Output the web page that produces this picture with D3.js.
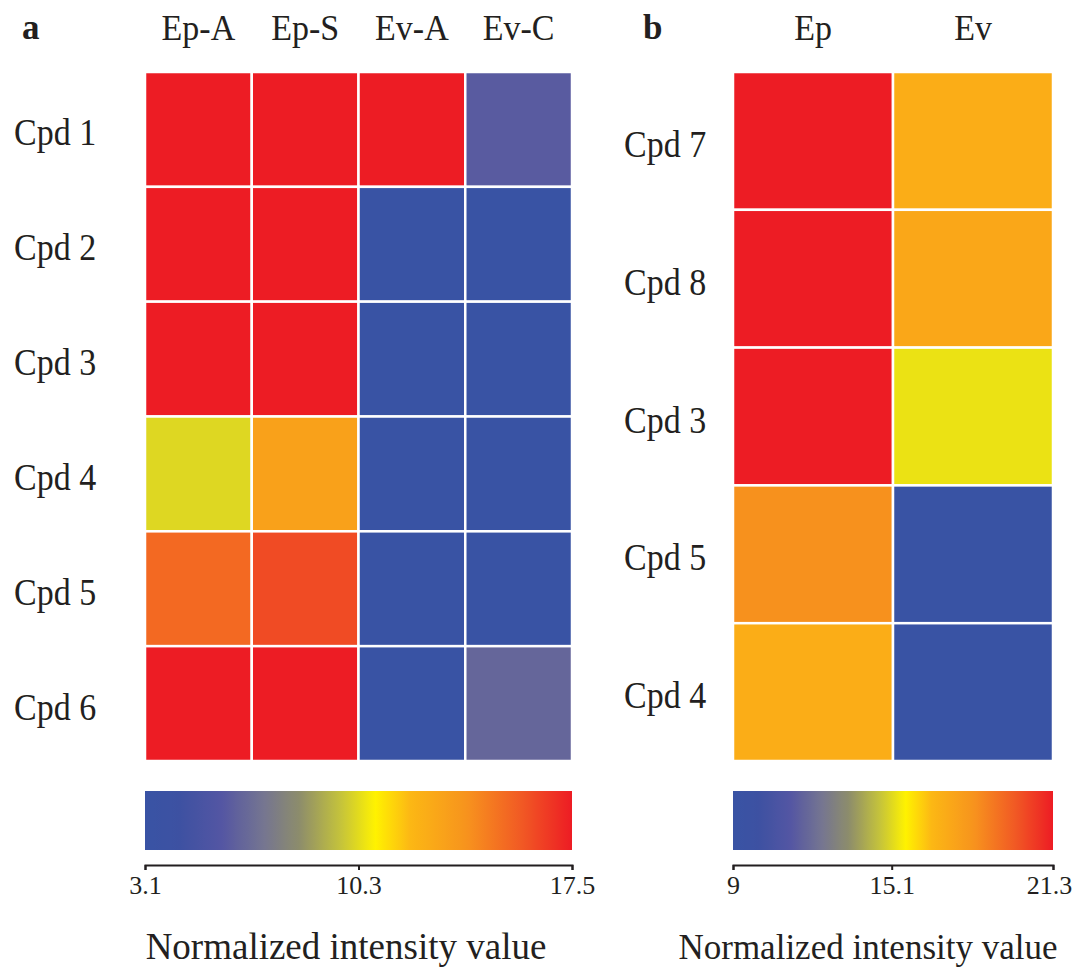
<!DOCTYPE html>
<html>
<head>
<meta charset="utf-8">
<script src="https://cdn.jsdelivr.net/npm/d3@7"></script>
<style>
  body { margin: 0; background: #fff; }
  svg text { font-family: "Liberation Serif", "Times New Roman", serif; fill: #231f20; }
</style>
</head>
<body>
<script>
// panel a
const rowsA = ["Cpd 1", "Cpd 2", "Cpd 3", "Cpd 4", "Cpd 5", "Cpd 6"];
const colsA = ["Ep-A", "Ep-S", "Ev-A", "Ev-C"];
const valuesA = [
  [17.5, 17.5, 17.5, 5.9],
  [17.5, 17.5, 3.1, 3.1],
  [17.5, 17.5, 3.1, 3.1],
  [10.2, 13.2, 3.1, 3.1],
  [15.3, 16.2, 3.1, 3.1],
  [17.5, 17.5, 3.1, 6.4]
];
const ticksA = [3.1, 10.3, 17.5];

// panel b
const rowsB = ["Cpd 7", "Cpd 8", "Cpd 3", "Cpd 5", "Cpd 4"];
const colsB = ["Ep", "Ev"];
const valuesB = [
  [21.3, 17.1],
  [21.3, 17.4],
  [21.3, 15.3],
  [18.3, 9],
  [17.1, 9]
];
const ticksB = [9, 15.1, 21.3];

// colour ramp stops (0..1) used by both colour bars
const rampPos = [0, 0.08, 0.18, 0.28, 0.36, 0.46, 0.54, 0.62, 0.75, 0.88, 1];
const rampCol = ["#3953a4", "#3d51a2", "#5456a3", "#767690", "#8c8c6c", "#c6c43a", "#fff200", "#fcb814", "#f7941d", "#f15a24", "#ed1c24"];

const width = 1074, height = 967;
const svg = d3.select("body").append("svg")
  .attr("width", width)
  .attr("height", height);
const defs = svg.append("defs");

const ramp = d3.scaleLinear().domain(rampPos).range(rampCol).interpolate(d3.interpolateRgb);

function panel(opt) {
  const x = d3.scaleBand().domain(opt.cols).range([opt.left, opt.right]);
  const y = d3.scaleBand().domain(opt.rows).range([72, 761]);
  const norm = d3.scaleLinear().domain([opt.ticks[0], opt.ticks[2]]).range([0, 1]).clamp(true);
  const color = v => ramp(norm(v));

  const g = svg.append("g");

  // heat cells
  opt.values.forEach((row, i) => {
    g.selectAll(null)
      .data(row)
      .enter()
      .append("rect")
      .attr("x", (d, j) => x(opt.cols[j]))
      .attr("y", y(opt.rows[i]))
      .attr("width", x.bandwidth())
      .attr("height", y.bandwidth())
      .attr("fill", d => color(d))
      .attr("stroke", "#fff")
      .attr("stroke-width", 2.5);
  });

  // column labels
  g.selectAll(".col")
    .data(opt.cols)
    .enter()
    .append("text")
    .attr("transform", d => "translate(" + (x(d) + x.bandwidth() / 2) + ",40) scale(1,1.08)")
    .attr("text-anchor", "middle")
    .style("font-size", "34px")
    .text(d => d);

  // row labels
  g.selectAll(".row")
    .data(opt.rows)
    .enter()
    .append("text")
    .attr("transform", d => "translate(" + opt.labelX + "," + (y(d) + y.bandwidth() / 2 + 16) + ") scale(1,1.1)")
    .style("font-size", "34px")
    .text(d => d);

  // panel letter
  g.append("text")
    .attr("x", opt.letterX)
    .attr("y", 39)
    .style("font-size", "35px")
    .style("font-weight", "bold")
    .text(opt.letter);

  // colour bar
  const gid = "grad-" + opt.letter;
  const grad = defs.append("linearGradient").attr("id", gid);
  d3.range(0, 1.0001, 0.02).forEach(t => {
    grad.append("stop").attr("offset", (t * 100) + "%").attr("stop-color", ramp(t));
  });
  g.append("rect")
    .attr("x", opt.left)
    .attr("y", 791)
    .attr("width", opt.right - opt.left)
    .attr("height", 59)
    .attr("fill", "url(#" + gid + ")");

  const xs = d3.scaleLinear().domain([opt.ticks[0], opt.ticks[2]]).range([opt.left, opt.right]);
  const axis = d3.axisBottom(xs)
    .tickValues(opt.ticks)
    .tickSize(5)
    .tickSizeOuter(5)
    .tickPadding(6)
    .tickFormat(d => String(d));
  const ax = g.append("g")
    .attr("transform", "translate(0,865)")
    .call(axis);
  ax.select(".domain").attr("stroke", "#231f20").attr("stroke-width", 2);
  ax.selectAll(".tick line").attr("stroke", "#231f20").attr("stroke-width", 2);
  ax.selectAll(".tick text")
    .style("font-size", "26px")
    .style("font-family", '"Liberation Serif", "Times New Roman", serif')
    .attr("fill", "#231f20")
    .attr("dx", (d, i) => i === 2 ? opt.lastTickDx : 0);

  g.append("text")
    .attr("x", opt.titleX)
    .attr("y", 959)
    .attr("text-anchor", "middle")
    .style("font-size", opt.titleSize)
    .text("Normalized intensity value");
}

panel({ letter: "a", letterX: 22, labelX: 14, left: 145, right: 572, rows: rowsA, cols: colsA, values: valuesA, ticks: ticksA,
  titleX: 346, titleSize: "37px", lastTickDx: 0 });
panel({ letter: "b", letterX: 643, labelX: 624, left: 733, right: 1053, rows: rowsB, cols: colsB, values: valuesB, ticks: ticksB,
  titleX: 868, titleSize: "35px", lastTickDx: -4 });
</script>
</body>
</html>
